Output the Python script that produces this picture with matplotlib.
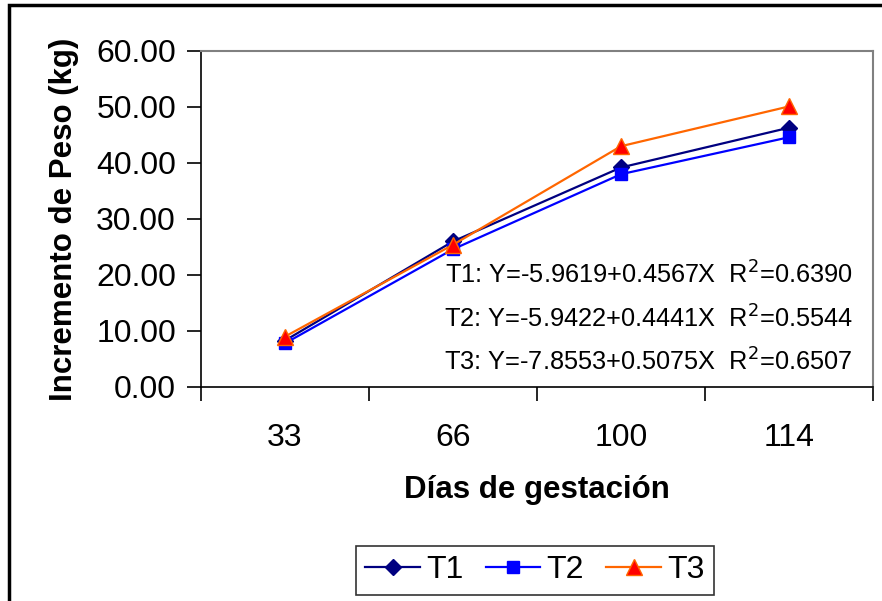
import matplotlib
matplotlib.use("Agg")
import matplotlib.pyplot as plt
from matplotlib.patches import Rectangle

plt.rcParams['font.family'] = ['Liberation Sans', 'DejaVu Sans']

dias = ['33', '66', '100', '114']
t1 = [8.3, 26.0, 39.2, 46.3]
t2 = [7.8, 24.6, 38.0, 44.6]
t3 = [9.0, 25.4, 43.0, 50.1]
ecuaciones = [
    r'T1: Y=-5.9619+0.4567X  R$^2$=0.6390',
    r'T2: Y=-5.9422+0.4441X  R$^2$=0.5544',
    r'T3: Y=-7.8553+0.5075X  R$^2$=0.6507',
]

fig = plt.figure(figsize=(8.82, 6.01), dpi=100)
ax = fig.add_axes([201/882, (601-387)/601, (873-201)/882, (387-51)/601])

# marco exterior de la figura
fig.patches.append(Rectangle((9/882, -0.1), 1.0, (601-5)/601 + 0.1, transform=fig.transFigure,
                             fill=False, edgecolor='black', linewidth=2.5))

x = range(len(dias))
ax.plot(x, t1, color='#000080', marker='D', markersize=8, linewidth=1.6, label='T1')
ax.plot(x, t2, color='#0000ff', marker='s', markersize=9, linewidth=1.6, label='T2')
ax.plot(x, t3, color='#ff6600', marker='^', markersize=11, markerfacecolor='#ff0000',
        markeredgecolor='#ff6600', linewidth=1.6, label='T3')

ax.set_xlim(-0.5, 3.5)
ax.set_ylim(0, 60)
ax.set_yticks(range(0, 61, 10))
ax.set_yticklabels(['%.2f' % v for v in range(0, 61, 10)], fontsize=23)
ax.set_xticks([-0.5, 0.5, 1.5, 2.5, 3.5])
ax.set_xticklabels([])
ax.set_xticks(list(x), minor=True)
ax.set_xticklabels(dias, minor=True, fontsize=23)
ax.tick_params(axis='x', which='minor', length=0, pad=26)
ax.tick_params(axis='x', which='major', length=10, direction='out', width=1.2)
ax.tick_params(axis='y', length=10, direction='out', width=1.2, pad=8)

for s in ['top', 'right']:
    ax.spines[s].set_color('#808080')
    ax.spines[s].set_linewidth(1.5)
for s in ['left', 'bottom']:
    ax.spines[s].set_linewidth(1.2)

ax.set_ylabel('Incremento de Peso (kg)', fontsize=22.5, fontweight='bold', labelpad=12)
ax.set_xlabel('Días de gestación', fontsize=22.5, fontweight='bold', labelpad=16)

for i, txt in enumerate(ecuaciones):
    ax.text(0.97, 0.333 - i * 0.13, txt, transform=ax.transAxes, ha='right',
            va='center', fontsize=18.3)

leg = fig.legend(loc='lower center', bbox_to_anchor=(535/882, 6/601), ncol=3, fontsize=23,
                 frameon=True, fancybox=False, edgecolor='black', handlelength=1.7,
                 columnspacing=0.7, handletextpad=0.2, borderpad=0.3, borderaxespad=0)
leg.get_frame().set_linewidth(1.2)

fig.savefig('out.png', dpi=100)
